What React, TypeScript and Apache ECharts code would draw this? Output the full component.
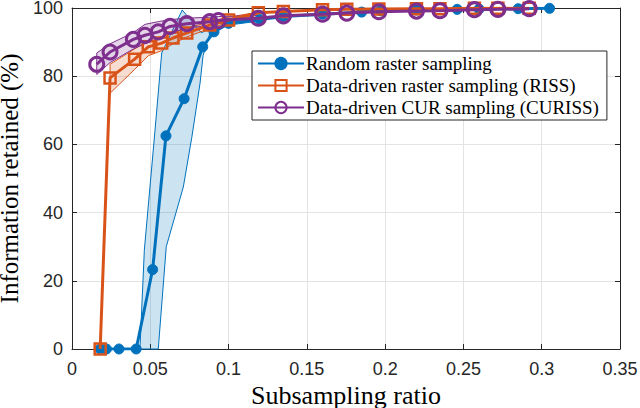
import React, { useEffect, useRef } from "react";
import * as echarts from "echarts";

// Random raster sampling
const randX = [0.018, 0.022, 0.030, 0.041, 0.0515, 0.060, 0.0716, 0.0835, 0.0907, 0.100, 0.120, 0.135, 0.160, 0.185, 0.197, 0.220, 0.246, 0.260, 0.285, 0.305];
const randY = [0, 0, 0, 0, 23.3, 62.5, 73.4, 88.6, 93.0, 95.5, 96.6, 97.5, 98.2, 98.8, 99.2, 99.4, 99.6, 99.7, 99.8, 99.9];

// Data-driven raster sampling (RISS)
const rissX = [0.018, 0.0243, 0.040, 0.0487, 0.0573, 0.0645, 0.0733, 0.088, 0.100, 0.119, 0.135, 0.160, 0.1755, 0.196, 0.220, 0.235, 0.257, 0.272, 0.292];
const rissY = [0, 79.5, 85.0, 88.6, 89.7, 91.2, 92.7, 95.0, 96.5, 98.6, 99.0, 99.5, 99.6, 99.7, 99.8, 99.8, 99.9, 99.9, 99.9];

// Data-driven CUR sampling (CURISS)
const curX = [0.0158, 0.0243, 0.0392, 0.0466, 0.0551, 0.0626, 0.0733, 0.088, 0.0935, 0.119, 0.135, 0.160, 0.1755, 0.196, 0.220, 0.235, 0.257, 0.272, 0.292];
const curY = [83.5, 87.1, 90.8, 92.0, 93.0, 94.6, 95.4, 96.0, 96.3, 97.0, 97.7, 98.2, 98.5, 98.9, 99.1, 99.2, 99.5, 99.6, 99.8];

// Band edges (spread across runs)
const randBandUpper = [[0.041, 0], [0.0434, 0], [0.0462, 29], [0.053, 64], [0.0573, 86.8], [0.0704, 99.4], [0.0828, 92.7], [0.0907, 95.0], [0.100, 96.5], [0.120, 97.2]];
const randBandLower = [[0.0551, 0], [0.0602, 30], [0.0711, 47.5], [0.0765, 62], [0.0818, 78], [0.0837, 86], [0.0881, 92.7], [0.100, 95.0], [0.120, 96.2]];

const rissBandX = [0.0243, 0.040, 0.0487, 0.0573, 0.0645, 0.0733, 0.088, 0.100, 0.119];
const rissBandUpper = [83.5, 88.0, 90.5, 91.6, 92.8, 94.0, 96.0, 97.3, 98.8];
const rissBandLower = [75.0, 82.0, 86.0, 87.5, 89.5, 91.5, 94.0, 95.8, 98.2];

const curBandX = [0.0158, 0.0243, 0.0392, 0.0466, 0.0551, 0.0626, 0.0733, 0.088, 0.0935, 0.119];
const curBandUpper = [86.8, 89.5, 92.8, 95.2, 96.0, 96.6, 97.0, 97.3, 97.5, 97.8];
const curBandLower = [80.5, 84.0, 88.0, 89.5, 91.0, 92.8, 94.0, 95.0, 95.5, 96.5];

const legendNames = ["Random raster sampling", "Data-driven raster sampling (RISS)", "Data-driven CUR sampling (CURISS)"];

const xTicksMax = 0.35;
const yTicksMax = 100;

const zip = (xs: number[], ys: number[]) => xs.map((x, i) => [x, ys[i]]);

function bandPolygon(upper: number[][], lower: number[][]) {
  return upper.concat(lower.slice().reverse());
}

function bandSeries(name: string, poly: number[][], fill: string, stroke: string, strokeW: number) {
  return {
    type: "custom",
    name,
    silent: true,
    z: 1,
    data: poly,
    encode: { x: 0, y: 1 },
    renderItem: (params: any, api: any) => {
      if (params.dataIndex !== 0) return null;
      const pts = poly.map((p) => api.coord(p));
      return {
        type: "polygon",
        shape: { points: pts },
        style: { fill, stroke, lineWidth: strokeW },
      };
    },
  };
}

const serif = "'Liberation Serif', 'DejaVu Serif', serif";
const sans = "'Liberation Sans', Arial, sans-serif";

export default function App() {
  const ref = useRef<HTMLDivElement>(null);
  useEffect(() => {
    document.body.style.margin = "0";
    const chart = echarts.init(ref.current!, null, { renderer: "svg" });
    const axisCommon = {
      type: "value",
      axisLine: { show: true, onZero: false, lineStyle: { color: "#262626", width: 1 } },
      axisTick: { show: true, inside: true, length: 5, lineStyle: { color: "#262626" } },
    };
    chart.setOption({
      animation: false,
      backgroundColor: "#fff",
      grid: { left: 72, top: 8, width: 548, height: 341, containLabel: false, outerBoundsMode: "none" },
      legend: {
        data: legendNames,
        orient: "vertical",
        left: 252,
        top: 51,
        itemWidth: 46,
        itemHeight: 14,
        itemGap: 3,
        padding: [3, 8, 3, 5],
        borderColor: "#262626",
        borderWidth: 1,
        backgroundColor: "#fff",
        textStyle: { fontFamily: serif, fontSize: 19, color: "#000", padding: [0, 0, 0, -3] },
      },
      xAxis: [
        {
          ...axisCommon,
          min: 0,
          max: xTicksMax,
          interval: 0.05,
          position: "bottom",
          name: "Subsampling ratio",
          nameLocation: "middle",
          nameGap: 29,
          nameTextStyle: { fontFamily: serif, fontSize: 26, color: "#000" },
          axisLabel: { fontFamily: sans, fontSize: 18, color: "#262626", margin: 11 },
          splitLine: { show: true, lineStyle: { color: "#e3e3e3", width: 1 } },
        },
        {
          ...axisCommon,
          min: 0,
          max: xTicksMax,
          interval: 0.05,
          position: "top",
          axisLabel: { show: false },
          splitLine: { show: false },
        },
      ],
      yAxis: [
        {
          ...axisCommon,
          min: 0,
          max: yTicksMax,
          interval: 20,
          position: "left",
          name: "Information retained (%)",
          nameLocation: "middle",
          nameGap: 44,
          nameTextStyle: { fontFamily: serif, fontSize: 25, color: "#000" },
          axisLabel: { fontFamily: sans, fontSize: 18, color: "#262626", margin: 9 },
          splitLine: { show: true, lineStyle: { color: "#e3e3e3", width: 1 } },
        },
        {
          ...axisCommon,
          min: 0,
          max: yTicksMax,
          interval: 20,
          position: "right",
          axisLabel: { show: false },
          splitLine: { show: false },
        },
      ],
      series: [
        bandSeries("band-rand", bandPolygon(randBandUpper, randBandLower), "rgba(0,114,189,0.2)", "#0072BD", 1),
        bandSeries(
          "band-riss",
          bandPolygon(zip(rissBandX, rissBandUpper), zip(rissBandX, rissBandLower)),
          "rgba(217,83,25,0.2)",
          "#D95319",
          1
        ),
        bandSeries(
          "band-cur",
          bandPolygon(zip(curBandX, curBandUpper), zip(curBandX, curBandLower)),
          "rgba(126,47,142,0.2)",
          "#7E2F8E",
          1
        ),
        {
          type: "line",
          name: legendNames[0],
          data: zip(randX, randY),
          z: 3,
          lineStyle: { color: "#0072BD", width: 3 },
          itemStyle: { color: "#0072BD", borderColor: "#0072BD", borderWidth: 1 },
          symbol: "circle",
          symbolSize: 10,
        },
        {
          type: "line",
          name: legendNames[1],
          data: zip(rissX, rissY),
          z: 4,
          lineStyle: { color: "#D95319", width: 3 },
          itemStyle: { color: "rgba(255,255,255,0)", borderColor: "#D95319", borderWidth: 2.5 },
          symbol: "rect",
          symbolSize: 11,
        },
        {
          type: "line",
          name: legendNames[2],
          data: zip(curX, curY),
          z: 5,
          lineStyle: { color: "#7E2F8E", width: 3 },
          itemStyle: { color: "rgba(255,255,255,0)", borderColor: "#7E2F8E", borderWidth: 3 },
          symbol: "circle",
          symbolSize: 14,
        },
      ],
    });
    return () => chart.dispose();
  }, []);
  return <div ref={ref} style={{ width: 640, height: 408 }} />;
}
